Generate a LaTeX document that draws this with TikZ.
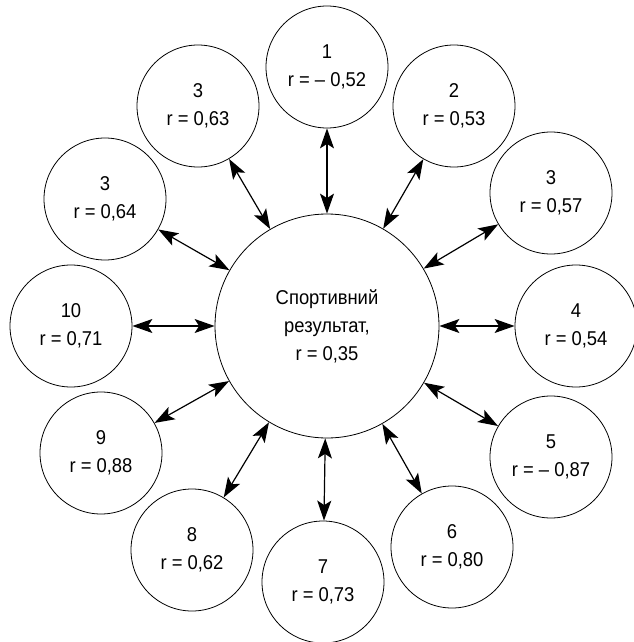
\documentclass[tikz,border=0pt]{standalone}
\usepackage{fontspec}
\setmainfont[FakeStretch=0.92]{Liberation Sans}
\usetikzlibrary{arrows.meta}
\begin{document}
\begin{tikzpicture}[x=1pt,y=-1pt,
  small/.style={circle,draw,line width=0.8pt,minimum size=122pt,inner sep=0pt,align=center,font=\fontsize{20}{28}\selectfont},
  big/.style={circle,draw,line width=0.8pt,minimum size=224pt,inner sep=0pt,align=center,font=\fontsize{20}{28}\selectfont},
  tip/.tip={Stealth[length=20pt,width=14pt,inset=4.5pt]},
  link/.style={line width=1.2pt,tip-tip}]
\useasboundingbox (0,0) rectangle (633,642);
\node[big] (c) at (327,326) {Спортивний\\результат,\\r = 0,35};
\node[small] (n1) at (327,67) {1\\r = – 0,52};
\node[small] (n2) at (454,106) {2\\r = 0,53};
\node[small] (n3r) at (551,193) {3\\r = 0,57};
\node[small] (n4) at (576,326) {4\\r = 0,54};
\node[small] (n5) at (551,457) {5\\r = – 0,87};
\node[small] (n6) at (452,547) {6\\r = 0,80};
\node[small] (n7) at (323,582) {7\\r = 0,73};
\node[small] (n8) at (192,550) {8\\r = 0,62};
\node[small] (n9) at (101,453) {9\\r = 0,88};
\node[small] (n10) at (71,326) {10\\r = 0,71};
\node[small] (n3l) at (105,199) {3\\r = 0,64};
\node[small] (n3t) at (198,106) {3\\r = 0,63};
\foreach \n in {n1,n2,n3r,n4,n5,n6,n7,n8,n9,n10,n3l,n3t}
  \draw[link] (c) -- (\n);
\end{tikzpicture}
\end{document}
